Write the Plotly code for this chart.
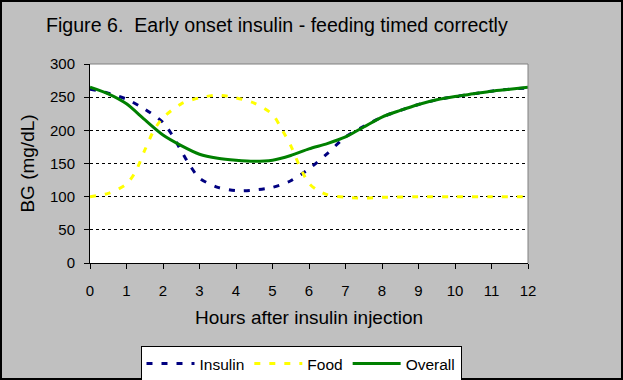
import plotly.graph_objects as go

# ---- data ----
insulin_h = [0, 0.5, 1, 1.5, 2, 2.25, 2.5, 2.75, 3, 3.5, 4, 4.5, 5, 5.5, 6, 6.5, 7, 7.5, 8, 8.5, 9, 9.5, 10, 10.5, 11, 11.5, 12]
insulin_v = [262, 256, 247, 232, 212, 193, 169, 146, 128, 114, 109, 110, 114, 124, 142, 165, 190, 206, 220, 230, 239, 246, 251, 255, 259, 262, 264]

food_h = [0, 0.5, 1, 1.25, 1.5, 1.75, 2, 2.5, 3, 3.5, 4, 4.5, 5, 5.25, 5.5, 5.75, 6, 6.25, 6.5, 7, 7.5, 8, 9, 10, 11, 12]
food_v = [100, 105, 119, 138, 170, 200, 219, 240, 249, 253, 249, 241, 224, 202, 177, 145, 120, 109, 103, 99, 98, 99, 100, 100, 100, 100]

overall_h = [0, 0.5, 1, 1.5, 2, 2.5, 3, 3.5, 4, 4.5, 5, 5.5, 6, 6.5, 7, 7.5, 8, 8.5, 9, 9.5, 10, 10.5, 11, 11.5, 12]
overall_v = [265, 255, 240, 216, 193, 177, 164, 158, 155, 153.5, 155, 162, 172, 180, 190, 205, 220, 230, 239, 246, 251, 255, 259, 262, 265]

x_ticks = list(range(0, 13))
y_ticks = [0, 50, 100, 150, 200, 250, 300]

FONT = "Arial, Liberation Sans, sans-serif"

fig = go.Figure()
fig.add_trace(go.Scatter(x=insulin_h, y=insulin_v, name="Insulin", mode="lines",
                         line=dict(color="#000080", width=3, dash="6px,9px", shape="spline", smoothing=0.8)))
fig.add_trace(go.Scatter(x=food_h, y=food_v, name="Food", mode="lines",
                         line=dict(color="#FFFF00", width=3, dash="6px,9px", shape="spline", smoothing=0.8)))
fig.add_trace(go.Scatter(x=overall_h, y=overall_v, name="Overall", mode="lines",
                         line=dict(color="#008000", width=3, shape="spline", smoothing=0.8)))

L, R, T, B = 90, 95, 64, 117
PW, PH = 623 - L - R, 380 - T - B

fig.update_layout(
    width=623, height=380,
    margin=dict(l=L, r=R, t=T, b=B, autoexpand=False),
    paper_bgcolor="#C0C0C0",
    plot_bgcolor="#FFFFFF",
    font=dict(family=FONT, color="black", size=15),
    title=dict(text="Figure 6.\u00a0\u00a0Early onset insulin - feeding timed correctly",
               font=dict(size=19.6, family=FONT, color="black"),
               x=46 / 623, xref="container", xanchor="left",
               y=1 - 25 / 380, yref="container", yanchor="middle", automargin=False),
    showlegend=True,
    legend=dict(orientation="h", x=(301 - L) / PW, xanchor="center",
                y=(T + PH - 346) / PH, yanchor="top",
                bgcolor="white", bordercolor="black", borderwidth=1,
                font=dict(size=15.5, family=FONT), itemwidth=48,
                tracegroupgap=0),
    xaxis=dict(range=[0, 12], tickvals=x_ticks, ticktext=[str(v) for v in x_ticks],
               showgrid=False, zeroline=False, showline=True, linecolor="black", linewidth=1,
               ticks="outside", ticklen=5, tickcolor="black", tickwidth=1,
               ticklabelstandoff=9, tickfont=dict(size=15), automargin=False,
               title=dict(text="Hours after insulin injection", font=dict(size=19), standoff=12),
               fixedrange=True),
    yaxis=dict(range=[0, 300], tickvals=y_ticks, ticktext=[str(v) for v in y_ticks],
               showgrid=True, gridcolor="black", gridwidth=1, griddash="3px,3px",
               zeroline=False, showline=True, linecolor="black", linewidth=1,
               ticks="outside", ticklen=5, tickcolor="black", tickwidth=1,
               ticklabelstandoff=6, tickfont=dict(size=15), automargin=False,
               title=dict(text="BG (mg/dL)", font=dict(size=19), standoff=10),
               fixedrange=True),
    shapes=[
        # plot-area top/right border (gray)
        dict(type="line", xref="paper", yref="paper", x0=0, x1=1, y0=1, y1=1,
             line=dict(color="#808080", width=1), layer="above"),
        dict(type="line", xref="paper", yref="paper", x0=1, x1=1, y0=0, y1=1,
             line=dict(color="#808080", width=1), layer="above"),
        # outer figure border
        dict(type="rect", xref="paper", yref="paper",
             x0=(-L + 1) / PW, x1=(623 - L - 1) / PW,
             y0=-(B - 1) / PH, y1=1 + (T - 1) / PH,
             line=dict(color="black", width=2), layer="above"),
    ],
)

fig.write_html("out.html", config={"displayModeBar": False},
               post_script="document.body.style.margin='0';document.body.style.overflow='hidden';")
